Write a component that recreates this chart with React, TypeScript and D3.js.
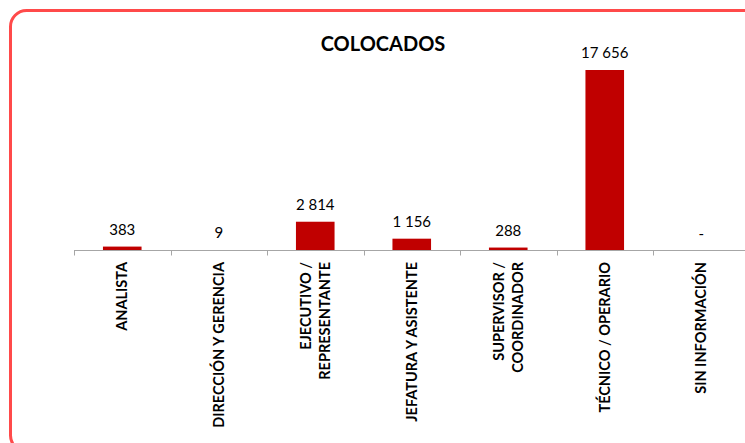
import React, { useEffect, useRef } from "react";
import * as d3 from "d3";

const categories: string[][] = [
  ["ANALISTA"],
  ["DIRECCIÓN Y GERENCIA"],
  ["EJECUTIVO /", "REPRESENTANTE"],
  ["JEFATURA Y ASISTENTE"],
  ["SUPERVISOR /", "COORDINADOR"],
  ["TÉCNICO / OPERARIO"],
  ["SIN INFORMACIÓN"],
];
const values: number[] = [383, 9, 2814, 1156, 288, 17656, 0];
const title = "COLOCADOS";

const width = 745;
const height = 443;
const marginLeft = 74;
const axisRight = 749.5;
const axisY = 250.5;
const plotTop = 70;

const fmt = d3.formatLocale({
  decimal: ",",
  thousands: " ",
  grouping: [3],
  currency: ["$", ""],
}).format(",.0f");

export default function App() {
  const holderRef = useRef<HTMLDivElement | null>(null);

  useEffect(() => {
    const holder = holderRef.current;
    if (!holder || holder.hasChildNodes()) return;

    const keys = categories.map((c) => c.join(" "));

    const x = d3
      .scaleBand()
      .domain(keys)
      .range([marginLeft, axisRight])
      .paddingInner(0.6)
      .paddingOuter(0.3);

    // band without padding, for the tick marks
    const xTicks = d3.scaleBand().domain(keys).range([marginLeft, axisRight]);

    const y = d3
      .scaleLinear()
      //@ts-ignore
      .domain([0, d3.max(values)])
      .range([axisY, plotTop]);

    const svg = d3
      .select(holder)
      .append("svg")
      .attr("width", width)
      .attr("height", height)
      .style("position", "absolute")
      .style("left", "0px")
      .style("top", "0px")
      .style("font-family", "Lato, 'Open Sans', sans-serif");

    svg
      .append("rect")
      .attr("width", width)
      .attr("height", height)
      .attr("fill", "white");

    // rounded border, running off the page on the right and bottom
    svg
      .append("rect")
      .attr("x", 10.5)
      .attr("y", 10.5)
      .attr("width", 760)
      .attr("height", 441)
      .attr("rx", 16)
      .attr("fill", "none")
      .attr("stroke", "#FF4A4A")
      .attr("stroke-width", 3);

    svg
      .append("text")
      .attr("x", 383)
      .attr("y", 51)
      .attr("text-anchor", "middle")
      .attr("font-weight", "bold")
      .attr("font-size", 20)
      .text(title);

    // bars
    svg
      .selectAll("rect.bar")
      .data(values)
      .enter()
      .append("rect")
      .attr("class", "bar")
      .attr("fill", "#C00000")
      .attr("x", (d, i) => x(keys[i])!)
      .attr("y", (d) => y(d))
      .attr("width", x.bandwidth())
      .attr("height", (d) => axisY - y(d));

    // axis line + ticks
    const axis = svg.append("g").attr("stroke", "#A6A6A6").attr("stroke-width", 1);
    axis
      .append("line")
      .attr("x1", marginLeft)
      .attr("x2", width)
      .attr("y1", axisY)
      .attr("y2", axisY);
    axis
      .selectAll("line.tick")
      .data(keys.concat(["end"]))
      .enter()
      .append("line")
      .attr("class", "tick")
      .attr("x1", (d, i) => Math.round(marginLeft + i * xTicks.step()) + 0.5)
      .attr("x2", (d, i) => Math.round(marginLeft + i * xTicks.step()) + 0.5)
      .attr("y1", axisY)
      .attr("y2", axisY + 5);

    // value labels
    svg
      .selectAll("text.val")
      .data(values)
      .enter()
      .append("text")
      .attr("class", "val")
      .attr("x", (d, i) => x(keys[i])! + x.bandwidth() / 2)
      .attr("y", (d) => y(d) - 12)
      .attr("text-anchor", "middle")
      .attr("font-size", 15)
      .text((d) => (d === 0 ? "-" : fmt(d)));

    // category labels, rotated
    const labels = svg
      .selectAll("g.cat")
      .data(categories)
      .enter()
      .append("g")
      .attr("class", "cat")
      .attr(
        "transform",
        (d, i) => `translate(${x(keys[i])! + x.bandwidth() / 2},262) rotate(-90)`
      );
    labels
      .selectAll("text")
      .data((d) => d.map((line, j) => ({ line, j, n: d.length })))
      .enter()
      .append("text")
      .attr("x", 0)
      .attr("y", (d) => (d.j - (d.n - 1) / 2) * 19 + 5)
      .attr("text-anchor", "end")
      .attr("font-weight", "bold")
      .attr("font-size", 14.5)
      .text((d) => d.line);
  }, []);

  return <div ref={holderRef} />;
}
